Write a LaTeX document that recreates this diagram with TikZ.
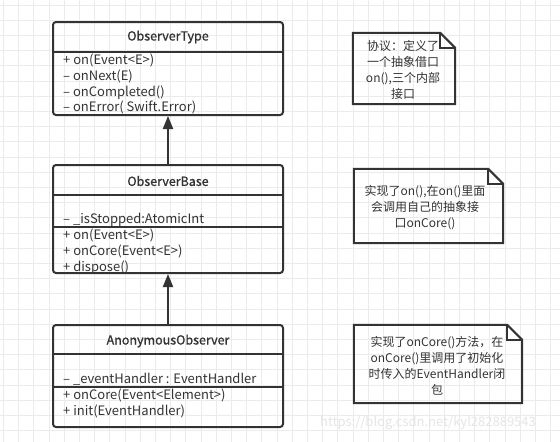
\documentclass[tikz,border=0pt]{standalone}
\usepackage{fontspec}
\setmainfont{Noto Sans CJK SC}
\newfontface\umlheadfont{Noto Sans CJK SC}[FakeBold=1]
\usetikzlibrary{arrows.meta}

\definecolor{umlline}{HTML}{333333}
\definecolor{gridgray}{HTML}{EBEBEB}

\tikzset{
    umlbox/.style={draw=umlline, line width=2pt, rounded corners=3pt,
        minimum width=230pt, inner sep=0pt},
    umltitle/.style={font=\fontsize{12.5}{14}\umlheadfont, text=umlline},
    member/.style={anchor=west, inner sep=0pt, text height=9pt, text depth=3pt,
        font=\fontsize{13}{15}\selectfont, text=umlline},
    notetext/.style={align=center, inner sep=0pt, text=umlline,
        font=\fontsize{12}{16}\selectfont},
    notebox/.style={draw=umlline, line width=2pt},
    inherit/.style={draw=umlline, line width=2pt,
        -{Triangle[length=13pt,width=10pt]}},
}

\begin{document}
\begin{tikzpicture}[x=1pt, y=-1pt]
    \useasboundingbox (0,0) rectangle (560,442);
    \fill[white] (0,0) rectangle (560,442);

    % background grid
    \foreach \i in {0,...,36} {
        \draw[gridgray, line width=0.8pt] (3.3+15.2*\i,0) -- (3.3+15.2*\i,442);
    }
    \foreach \j in {0,...,28} {
        \draw[gridgray, line width=0.8pt] (0,5+15.2*\j) -- (560,5+15.2*\j);
    }

    % ObserverType
    \node[umlbox, minimum height=93pt] (type) at (168,68.5) {};
    \draw[umlline, line width=2pt] (type.west |- 0,52) -- (type.east |- 0,52);
    \node[umltitle] (typetitle) at (168,37) {ObserverType};
    \node[member] (type1) at (63,61) {+ on(Event<E>)};
    \node[member] (type2) at (63,77) {– onNext(E)};
    \node[member] (type3) at (63,93) {– onCompleted()};
    \node[member] (type4) at (63,108) {– onError( Swift.Error)};

    % ObserverBase
    \node[umlbox, minimum height=108pt] (base) at (168,219) {};
    \draw[umlline, line width=2pt] (base.west |- 0,195) -- (base.east |- 0,195);
    \draw[umlline, line width=2pt] (base.west |- 0,227) -- (base.east |- 0,227);
    \node[umltitle] (basetitle) at (168,181) {ObserverBase};
    \node[member] (base1) at (63,220) {– \_isStopped:AtomicInt};
    \node[member] (base2) at (63,236) {+ on(Event<E>)};
    \node[member] (base3) at (63,252) {+ onCore(Event<E>)};
    \node[member] (base4) at (63,268) {+ dispose()};

    % AnonymousObserver
    \node[umlbox, minimum height=102pt] (anon) at (168,376) {};
    \draw[umlline, line width=2pt] (anon.west |- 0,354) -- (anon.east |- 0,354);
    \draw[umlline, line width=2pt] (anon.west |- 0,387) -- (anon.east |- 0,387);
    \node[umltitle] (anontitle) at (168,341) {AnonymousObserver};
    \node[member] (anon1) at (63,380) {– \_eventHandler : EventHandler};
    \node[member] (anon2) at (63,396) {+ onCore(Event<Element>)};
    \node[member] (anon3) at (63,412) {+ init(EventHandler)};

    % inheritance
    \draw[inherit] (base.north) -- (type.south);
    \draw[inherit] (anon.north) -- (base.south);

    % notes
    \node[minimum width=102pt, minimum height=71pt, inner sep=0pt] (note1) at (404,68.5) {};
    \node[minimum width=149pt, minimum height=74pt, inner sep=0pt] (note2) at (428.5,206) {};
    \node[minimum width=168pt, minimum height=78pt, inner sep=0pt] (note3) at (438,364) {};
    \foreach \n in {note1,note2,note3} {
        \draw[notebox] (\n.north west) -- ([xshift=-15pt]\n.north east)
            -- ([yshift=-15pt]\n.north east) -- (\n.south east)
            -- (\n.south west) -- cycle;
        \draw[notebox] ([xshift=-15pt]\n.north east) |- ([yshift=-15pt]\n.north east);
    }
    \node[notetext] (note1text) at (403,70) {协议：定义了\\一个抽象借口\\on(),三个内部\\接口};
    \node[notetext] (note2text) at (425,207.5) {实现了on(),在on()里面\\会调用自己的抽象接\\口onCore()};
    \node[notetext] (note3text) at (437,365.5) {实现了onCore()方法，在\\onCore()里调用了初始化\\时传入的EventHandler闭\\包};

    % watermark
    \node[text=black!10, font=\fontsize{13}{15}\selectfont, inner sep=0pt] (mark)
        at (428,423) {https://blog.csdn.net/kyl282889543};

\end{tikzpicture}
\end{document}
